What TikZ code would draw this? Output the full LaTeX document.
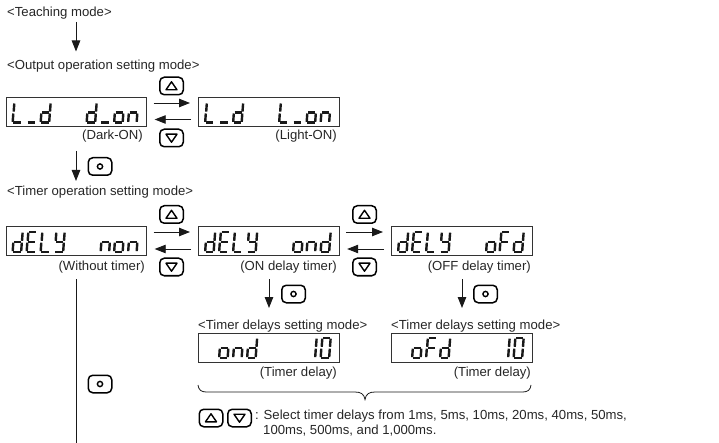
\documentclass[tikz,border=0pt]{standalone}
\usepackage{fontspec}
\setmainfont{Liberation Sans}
\usetikzlibrary{arrows.meta}
\tikzset{
  lbl/.style={font=\fontsize{13.15}{15}\selectfont,inner sep=0pt,text=black!85},
  lw/.style={lbl,anchor=base west},
  le/.style={lbl,anchor=base east},
  lcdbox/.style={draw=black!80,line width=0.7pt,minimum width=140.5pt,minimum height=29pt,inner sep=0pt,anchor=north west},
  flow/.style={line width=0.9pt,draw=black!90,-{Triangle[length=11pt,width=8.5pt]}},
  btn/.style={draw=black,line width=1.5pt,rounded corners=4.5pt,inner sep=0pt,minimum width=23.5pt,minimum height=17.5pt},
  seg/.style={line width=2.4pt,draw=black!90},
  btnmark/.style={line width=1.4pt,draw=black}
}
% seven-segment glyphs
\def\sega{\draw[seg] (3.2,-20.2) -- (10.4,-20.2);}
\def\segb{\draw[seg] (10.6,-19.4) -- (10,-11.3);}
\def\segc{\draw[seg] (9.8,-9.4) -- (9.2,-1);}
\def\segd{\draw[seg] (1.2,-0.2) -- (8.6,-0.2);}
\def\sege{\draw[seg] (0.7,-1) -- (1.3,-9.4);}
\def\segf{\draw[seg] (1.7,-11.3) -- (2.3,-19.4);}
\def\segg{\draw[seg] (2,-10.3) -- (9.4,-10.3);}
\def\glyphd{b,c,d,e,g}
\def\glyphL{f,e,d}
\def\glyphu{d}
\def\glyphon{c,d,e,g}
\def\glyphn{c,e,g}
\def\glyphE{a,f,g,e,d}
\def\glyphY{f,b,g,c,d}
\def\glyphF{a,f,g,e}
\def\glyphone{b,c}
\def\glyphzero{a,b,c,d,e,f}
\newcommand\lcdchar[4]{% box left, box top, offset, glyph
  \begin{scope}[shift={(#1+#3,#2+25.6)}]
    \edef\glist{\csname glyph#4\endcsname}
    \foreach \q in \glist {\csname seg\q\endcsname}
  \end{scope}}
\newcommand\lcdfour[6]{% box left, box top, four glyphs from the right-hand block
  \lcdchar{#1}{#2}{80.5}{#3}\lcdchar{#1}{#2}{94.5}{#4}\lcdchar{#1}{#2}{108}{#5}\lcdchar{#1}{#2}{122}{#6}}
\newcommand\btnup[3]{\node[btn] (#1) at (#2,#3) {};
  \draw[btnmark,line join=round] (#2-5.5,#3+3.8) -- (#2,#3-4.2) -- (#2+5.5,#3+3.8) -- cycle;}
\newcommand\btndown[3]{\node[btn] (#1) at (#2,#3) {};
  \draw[btnmark,line join=round] (#2-5.5,#3-3.8) -- (#2,#3+4.2) -- (#2+5.5,#3-3.8) -- cycle;}
\newcommand\btnset[3]{\node[btn] (#1) at (#2,#3) {};
  \draw[btnmark] (#2,#3) circle (2.6);}
\begin{document}
\begin{tikzpicture}[x=1pt,y=-1pt]
\useasboundingbox (0,0) rectangle (719,443);
% labels
\node[lw] (teach) at (7,17) {<Teaching mode>};
\node[lw] (outmode) at (7,69.5) {<Output operation setting mode>};
\node[lw] (timermode) at (7,196) {<Timer operation setting mode>};
\node[le] (darkon) at (143,140) {(Dark-ON)};
\node[le] (lighton) at (337,140) {(Light-ON)};
\node[le] (withoutt) at (145,270) {(Without timer)};
\node[le] (ondt) at (337,270) {(ON delay timer)};
\node[le] (ofdt) at (531,270) {(OFF delay timer)};
\node[lw] (tds1) at (198,329.5) {<Timer delays setting mode>};
\node[lw] (tds2) at (391,329.5) {<Timer delays setting mode>};
\node[le] (td1) at (337,376.5) {(Timer delay)};
\node[le] (td2) at (531,376.5) {(Timer delay)};
\node[lw] (sel1) at (255,419.5) {: Select timer delays from 1ms, 5ms, 10ms, 20ms, 40ms, 50ms,};
\node[lw] (sel2) at (263,434) {100ms, 500ms, and 1,000ms.};
% display frames
\node[lcdbox] (ldark) at (5.5,97.3) {};
\node[lcdbox] (llight) at (198,97.3) {};
\node[lcdbox] (dnon) at (5.5,226.5) {};
\node[lcdbox] (dond) at (198,226.5) {};
\node[lcdbox] (dofd) at (391,226.5) {};
\node[lcdbox] (tond) at (198,332.5) {};
\node[lcdbox] (tofd) at (391,332.5) {};
% display contents
\lcdchar{5.5}{97.3}{6.5}{L}\lcdchar{5.5}{97.3}{21}{u}\lcdchar{5.5}{97.3}{34.5}{d}
\lcdfour{5.5}{97.3}{d}{u}{on}{n}
\lcdchar{198}{97.3}{6.5}{L}\lcdchar{198}{97.3}{21}{u}\lcdchar{198}{97.3}{34.5}{d}
\lcdfour{198}{97.3}{L}{u}{on}{n}
\foreach \bx in {5.5,198,391}{
  \lcdchar{\bx}{226.5}{6.5}{d}\lcdchar{\bx}{226.5}{20.5}{E}\lcdchar{\bx}{226.5}{34.5}{L}\lcdchar{\bx}{226.5}{48.5}{Y}}
\lcdchar{5.5}{226.5}{94.5}{n}\lcdchar{5.5}{226.5}{108}{on}\lcdchar{5.5}{226.5}{122}{n}
\lcdchar{198}{226.5}{94.5}{on}\lcdchar{198}{226.5}{108}{n}\lcdchar{198}{226.5}{122}{d}
\lcdchar{391}{226.5}{94.5}{on}\lcdchar{391}{226.5}{108}{F}\lcdchar{391}{226.5}{122}{d}
\lcdchar{198}{332.5}{20.5}{on}\lcdchar{198}{332.5}{34.5}{n}\lcdchar{198}{332.5}{48.5}{d}
\lcdchar{198}{332.5}{108}{one}\lcdchar{198}{332.5}{122}{zero}
\lcdchar{391}{332.5}{20.5}{on}\lcdchar{391}{332.5}{34.5}{F}\lcdchar{391}{332.5}{48.5}{d}
\lcdchar{391}{332.5}{108}{one}\lcdchar{391}{332.5}{122}{zero}
% buttons
\btnup{u1}{171.5}{86}
\btndown{d1}{171.5}{138}
\btnset{s1}{100}{166.5}
\btnup{u2}{171.5}{214.5}
\btndown{d2}{171.5}{267}
\btnup{u3}{364.5}{214.5}
\btndown{d3}{364.5}{267}
\btnset{s2}{293.5}{294}
\btnset{s3}{485.5}{294}
\btnset{s4}{100}{384}
\btnup{u4}{211}{418}
\btndown{d4}{239.5}{418}
% connectors
\coordinate (a1s) at (76,22); \coordinate (a1e) at (76,51.5);
\coordinate (a2s) at (76,151); \coordinate (a2e) at (76,181);
\coordinate (a3s) at (269,279); \coordinate (a3e) at (269,308);
\coordinate (a4s) at (462,279); \coordinate (a4e) at (462,308);
\coordinate (lines) at (76,279); \coordinate (linee) at (76,443);
\draw[flow] (a1s) -- (a1e);
\draw[flow] (a2s) -- (a2e);
\draw[flow] (a3s) -- (a3e);
\draw[flow] (a4s) -- (a4e);
\draw[line width=0.9pt,draw=black!90] (lines) -- (linee);
\draw[flow,shorten <=7pt,shorten >=8pt] (ldark.east |- 0,103) -- (llight.west |- 0,103);
\draw[flow,shorten <=7pt,shorten >=8pt] (llight.west |- 0,119.5) -- (ldark.east |- 0,119.5);
\draw[flow,shorten <=7pt,shorten >=8pt] (dnon.east |- 0,232) -- (dond.west |- 0,232);
\draw[flow,shorten <=7pt,shorten >=8pt] (dond.west |- 0,249) -- (dnon.east |- 0,249);
\draw[flow,shorten <=7pt,shorten >=8pt] (dond.east |- 0,232) -- (dofd.west |- 0,232);
\draw[flow,shorten <=7pt,shorten >=8pt] (dofd.west |- 0,249) -- (dond.east |- 0,249);
% brace
\draw[line width=0.8pt,draw=black!90] (198,385) .. controls (198.5,389.5) and (201,392) .. (206,392)
  -- (355,392) .. controls (361,392) and (364,394) .. (365,399.5)
  .. controls (366,394) and (369,392) .. (375,392)
  -- (523,392) .. controls (528,392) and (530.5,389.5) .. (531,385);
\end{tikzpicture}
\end{document}
